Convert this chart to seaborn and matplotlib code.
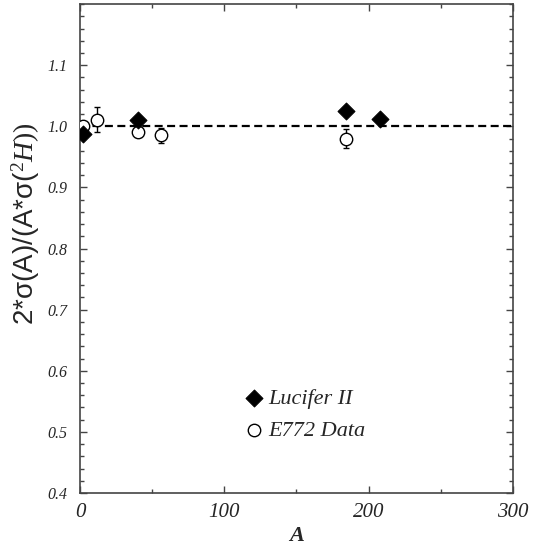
import numpy as np
import pandas as pd
import matplotlib
matplotlib.use("Agg")
import matplotlib.pyplot as plt
import seaborn as sns
from matplotlib.ticker import MultipleLocator

# Lucifer II points
luc_A = [2, 40, 184, 208]
luc_ratio = [0.988, 1.010, 1.025, 1.012]

# E772 data points
e772_A = [2, 12, 40, 56, 184]
e772_ratio = [1.000, 1.011, 0.990, 0.985, 0.980]
e772_err = [0.003, 0.020, 0.008, 0.012, 0.015]

y_ticks = [0.4, 0.5, 0.6, 0.7, 0.8, 0.9, 1.0, 1.1]
y_tick_labels = ['0.4', '0.5', '0.6', '0.7', '0.8', '0.9', '1.0', '1.1']
x_ticks = [0, 100, 200, 300]

SERIF = 'Liberation Serif'
SANS = 'Liberation Sans'

sns.set_style("ticks")
plt.rcParams['font.family'] = [SERIF, 'DejaVu Serif']
plt.rcParams['mathtext.fontset'] = 'custom'
plt.rcParams['mathtext.rm'] = SERIF
plt.rcParams['mathtext.it'] = SERIF + ':italic'
plt.rcParams['mathtext.bf'] = SERIF + ':bold'

fig = plt.figure(figsize=(5.41, 5.5), dpi=100)
ax = fig.add_axes([0.148, 0.1036, 0.800, 0.889])

# reference line at unity
ax.axhline(1.0, color='black', lw=1.6, ls=(0, (3.6, 2.0)), zorder=1)

e772_df = pd.DataFrame({"A": e772_A, "ratio": e772_ratio, "err": e772_err})
luc_df = pd.DataFrame({"A": luc_A, "ratio": luc_ratio})

ax.errorbar(e772_df["A"], e772_df["ratio"], yerr=e772_df["err"], fmt='none',
            ecolor='black', elinewidth=1.0, capsize=2.5, zorder=2)
sns.scatterplot(data=e772_df, x="A", y="ratio", ax=ax, marker='o', s=80,
                facecolor='white', edgecolor='black', linewidth=1.0,
                label='E772 Data', zorder=3)
sns.scatterplot(data=luc_df, x="A", y="ratio", ax=ax, marker='D', s=75,
                color='black', edgecolor='black', label='Lucifer II', zorder=4)

ax.set_xlim(0, 300)
ax.set_ylim(0.4, 1.2)
ax.xaxis.set_minor_locator(MultipleLocator(50))
ax.yaxis.set_minor_locator(MultipleLocator(0.02))
ax.set_xticks(x_ticks)
ax.set_xticklabels([str(v) for v in x_ticks], family=SERIF, style='italic', fontsize=15)
ax.set_yticks(y_ticks)
ax.set_yticklabels(y_tick_labels, family=SERIF, style='italic', fontsize=11.5)
ax.tick_params(which='both', direction='in', top=True, right=True, color='#444444')
ax.tick_params(which='major', length=5, width=1)
ax.tick_params(which='minor', length=3, width=1)
ax.tick_params(axis='x', pad=7)
ax.tick_params(axis='y', pad=9)

for sp in ax.spines.values():
    sp.set_color('#444444')
    sp.set_linewidth(1.2)

ax.set_xlabel('A', family=SERIF, fontsize=16, fontstyle='italic',
              fontweight='bold', labelpad=3)
ax.set_ylabel(r'2*σ(A)/(A*σ($^{2}H))$', family=SANS, fontsize=20)
ax.yaxis.set_label_coords(-0.088, 0.551)

handles, labels = ax.get_legend_handles_labels()
order = [labels.index('Lucifer II'), labels.index('E772 Data')]
ax.legend([handles[i] for i in order], [labels[i] for i in order],
          loc='lower left', bbox_to_anchor=(0.33, 0.066), frameon=False,
          prop={'family': SERIF, 'style': 'italic', 'size': 16},
          handletextpad=0.15, labelspacing=0.5, handlelength=1.0)

fig.savefig('out.png', dpi=100)
